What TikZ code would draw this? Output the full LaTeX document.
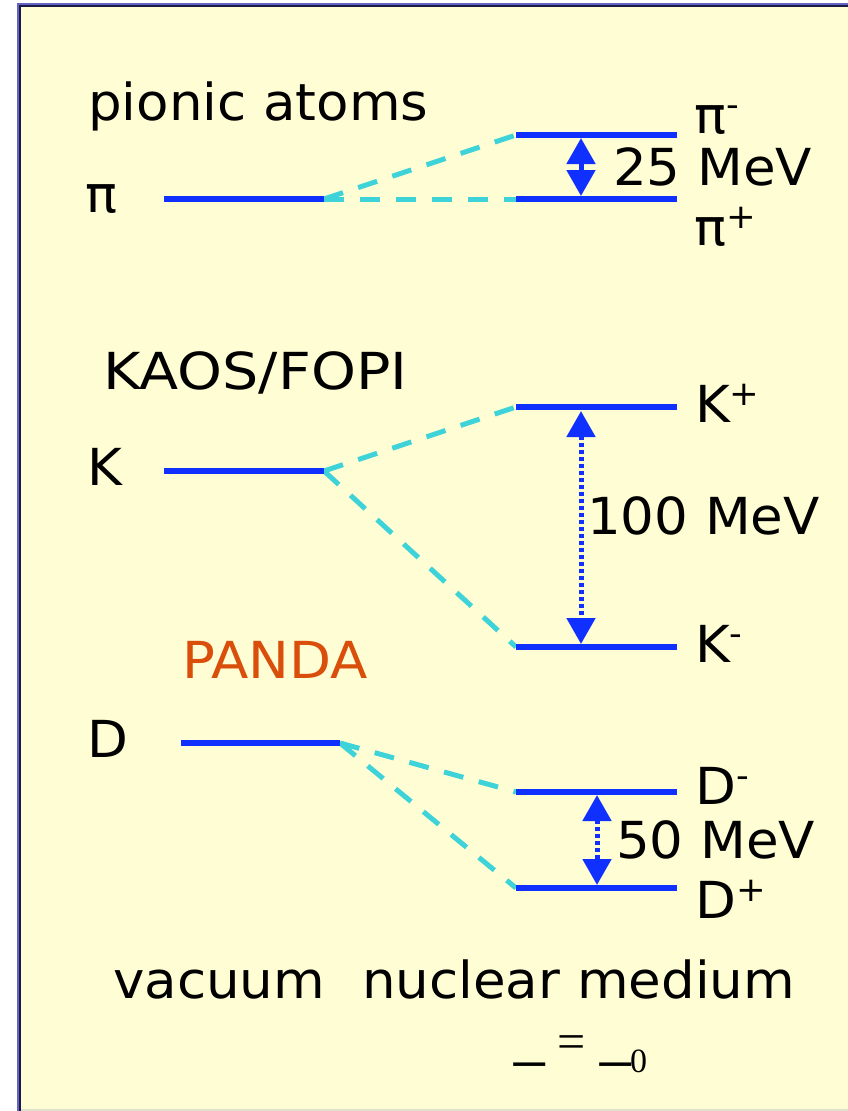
\documentclass[tikz,border=0pt]{standalone}
\usepackage{fontspec}
\setmainfont[FakeStretch=1.04]{DejaVu Sans}
\newfontfamily\kaosfont[FakeStretch=1.12]{DejaVu Sans}
\newfontfamily\pandafont[FakeStretch=1.07]{DejaVu Sans}
\newfontfamily\serifrho{Liberation Serif}
\newfontfamily\barfont{Liberation Sans}
\usetikzlibrary{arrows.meta}
\definecolor{bgyellow}{HTML}{FFFDD3}
\definecolor{lvlblue}{HTML}{1030FF}
\definecolor{dashcyan}{HTML}{3DD3D8}
\definecolor{pandaorange}{HTML}{D94E0A}
\definecolor{framelight}{HTML}{6464C4}
\definecolor{framedark}{HTML}{1A1A48}
\definecolor{bottomgray}{HTML}{E2E0C8}
\newcommand\supx[1]{\raisebox{17pt}{\fontsize{34}{34}\selectfont #1}}
\begin{document}
\begin{tikzpicture}[x=1pt,y=-1pt,
  lbl/.style={anchor=base west, inner sep=0pt, font=\fontsize{51}{60}\selectfont, text=black},
  level/.style={draw=lvlblue, line width=6pt},
  link/.style={draw=dashcyan, line width=5pt, dash pattern=on 20pt off 16pt},
  gap/.style={draw=lvlblue, line width=5pt, {Triangle[length=26pt,width=28pt]}-{Triangle[length=26pt,width=28pt]}},
  dotgap/.style={gap, dash pattern=on 4.5pt off 2.5pt},
  rho/.style={anchor=base west, inner sep=0pt, text=black},
]
\useasboundingbox (0,0) rectangle (848,1111);
% panel
\fill[white] (0,0) rectangle (848,1111);
\fill[bgyellow] (19,5) rectangle (848,1109);
\fill[framelight] (17,3) rectangle (848,5);
\fill[framelight] (17,3) rectangle (19,1111);
\fill[framedark] (19,5) rectangle (848,7);
\fill[framedark] (19,5) rectangle (21,1111);
\fill[bottomgray] (21,1109) rectangle (848,1111);

% ---------- pions ----------
\coordinate (pvL) at (164,199);
\coordinate (pvR) at (324,199);
\coordinate (pmL) at (516,135);
\coordinate (pmR) at (677,135);
\coordinate (ppL) at (516,199);
\coordinate (ppR) at (677,199);
\coordinate (paT) at (581,138);
\coordinate (paB) at (581,196);
\draw[link] (pvR) -- (pmL);
\draw[link] (pvR) -- (ppL);
\draw[level] (pvL) -- (pvR);
\draw[level] (pmL) -- (pmR);
\draw[level] (ppL) -- (ppR);
\draw[gap] (paT) -- (paB);

\node[lbl] (pionic) at (88,120) {pionic atoms};
\node[lbl] (pivac) at (85,212) {π};
\node[lbl] (pim) at (694,133) {π\supx{-}};
\node[lbl] (pip) at (694,245) {π\supx{+}};
\node[lbl] (pigap) at (613,185) {25 MeV};

% ---------- kaons ----------
\coordinate (kvL) at (164,471);
\coordinate (kvR) at (324,471);
\coordinate (kpL) at (516,407);
\coordinate (kpR) at (677,407);
\coordinate (kmL) at (516,647);
\coordinate (kmR) at (677,647);
\coordinate (kaT) at (581,411);
\coordinate (kaB) at (581,644);
\draw[link] (kvR) -- (kpL);
\draw[link] (kvR) -- (kmL);
\draw[level] (kvL) -- (kvR);
\draw[level] (kpL) -- (kpR);
\draw[level] (kmL) -- (kmR);
\draw[dotgap] (kaT) -- (kaB);

\node[lbl, font=\kaosfont\fontsize{51}{60}\selectfont] (kaos) at (103,389) {KAOS/FOPI};
\node[lbl] (kvac) at (87,485) {K};
\node[lbl] (kp) at (695,422) {K\supx{+}};
\node[lbl] (km) at (695,662) {K\supx{-}};
\node[lbl] (kgap) at (587,534) {100 MeV};

% ---------- D mesons ----------
\coordinate (dvL) at (181,743);
\coordinate (dvR) at (340,743);
\coordinate (dmL) at (516,792);
\coordinate (dmR) at (677,792);
\coordinate (dpL) at (516,888);
\coordinate (dpR) at (677,888);
\coordinate (daT) at (597,795);
\coordinate (daB) at (597,885);
\draw[link] (dvR) -- (dmL);
\draw[link] (dvR) -- (dpL);
\draw[level] (dvL) -- (dvR);
\draw[level] (dmL) -- (dmR);
\draw[level] (dpL) -- (dpR);
\draw[dotgap] (daT) -- (daB);

\node[lbl, font=\pandafont\fontsize{51}{60}\selectfont, text=pandaorange] (panda) at (182,678) {PANDA};
\node[lbl] (dvac) at (87,757) {D};
\node[lbl] (dm) at (695,804) {D\supx{-}};
\node[lbl] (dp) at (695,918) {D\supx{+}};
\node[lbl] (dgap) at (616,858) {50 MeV};

% ---------- column headings ----------
\node[lbl] (vacuum) at (113,998) {vacuum};
\node[lbl] (medium) at (362,998) {nuclear medium};

% ---------- density ----------
\node[rho, font=\barfont\fontsize{55}{55}\selectfont] (rhoA) at (514,1055) {\_};
\node[rho, font=\serifrho\fontsize{50}{50}\selectfont] (eq) at (557,1058) {=};
\node[rho, font=\barfont\fontsize{55}{55}\selectfont] (rhoB) at (600,1055) {\_};
\node[rho, font=\serifrho\fontsize{34}{34}\selectfont] (zero) at (630,1072) {0};
\end{tikzpicture}
\end{document}
